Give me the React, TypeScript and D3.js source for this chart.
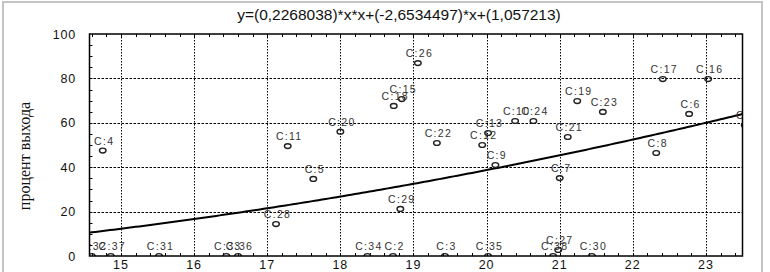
import React, { useEffect, useRef } from "react";
import * as d3 from "d3";

// fitted curve y = a*x*x + b*x + c (from the chart title)
const coeffs = [0.2268038, -2.6534497, 1.057213];
const title = "y=(0,2268038)*x*x+(-2,6534497)*x+(1,057213)";
const yLabel = "процент выхода";

const labels = [
  "C:4", "C:32", "C:37", "C:31", "C:33", "C:36", "C:11", "C:5", "C:28", "C:20",
  "C:34", "C:2", "C:18", "C:15", "C:29", "C:26", "C:22", "C:3", "C:12", "C:13",
  "C:35", "C:9", "C:10", "C:24", "C:7", "C:27", "C:38", "C:30", "C:21", "C:19",
  "C:23", "C:8", "C:17", "C:6", "C:16", "C:1",
];
const xs = [
  14.75, 14.6, 14.86, 15.52, 16.44, 16.6, 17.28, 17.63, 17.12, 18.0,
  18.37, 18.72, 18.73, 18.84, 18.82, 19.06, 19.32, 19.43, 19.94, 20.02,
  20.02, 20.12, 20.39, 20.64, 21.0, 20.98, 20.91, 21.44, 21.11, 21.24,
  21.59, 22.32, 22.41, 22.77, 23.03, 23.53,
];
const ys = [
  47.5, 0, 0, 0, 0, 0, 49.5, 34.7, 14.4, 56,
  0, 0, 67.6, 70.7, 21.2, 86.9, 50.9, 0, 50, 55.4,
  0, 41, 60.8, 60.8, 35.1, 2.7, 0, 0, 53.6, 69.8,
  64.9, 46.4, 79.7, 64, 79.7, 59,
];

const xTicks = [15, 16, 17, 18, 19, 20, 21, 22, 23];
const yTicks = [0, 20, 40, 60, 80, 100];

const W = 770, H = 272;
const plot = { left: 89.5, right: 742.5, top: 34, bottom: 256 };

const App = () => {
  const ref = useRef<SVGSVGElement>(null);

  useEffect(() => {
    const svg = d3.select(ref.current);
    svg.selectAll("*").remove();

    const x = d3.scaleLinear().domain([14.569, 23.5]).range([plot.left, plot.right]);
    const y = d3.scaleLinear().domain([0, 100]).range([plot.bottom, plot.top]);

    // outer frame
    svg.append("rect")
      .attr("x", 3).attr("y", 2).attr("width", 759).attr("height", H + 4)
      .attr("fill", "white").attr("stroke", "#c4c4c4").attr("stroke-width", 2);

    svg.append("text")
      .attr("x", 399).attr("y", 20)
      .attr("text-anchor", "middle")
      .attr("font-family", "Liberation Sans, Arial, sans-serif")
      .attr("font-size", 15.5)
      .attr("fill", "#111")
      .text(title);

    svg.append("text")
      .attr("transform", `translate(30,156) rotate(-90)`)
      .attr("text-anchor", "middle")
      .attr("font-family", "Liberation Serif, Times New Roman, serif")
      .attr("font-size", 16)
      .attr("fill", "#111")
      .text(yLabel);

    svg.append("defs").append("clipPath").attr("id", "plotclip")
      .append("rect")
      .attr("x", plot.left).attr("y", plot.top)
      .attr("width", plot.right - plot.left).attr("height", plot.bottom - plot.top);

    // grid
    const grid = svg.append("g").attr("stroke", "#000").attr("stroke-width", 1);
    grid.selectAll("line.v").data(xTicks).enter().append("line")
      .attr("x1", d => Math.round(x(d)) + 0.5).attr("x2", d => Math.round(x(d)) + 0.5)
      .attr("y1", plot.top).attr("y2", plot.bottom)
      .attr("stroke-dasharray", "1.5,1.5");
    grid.selectAll("line.h").data(yTicks.filter(d => d > 0 && d < 100)).enter().append("line")
      .attr("y1", d => Math.round(y(d)) + 0.5).attr("y2", d => Math.round(y(d)) + 0.5)
      .attr("x1", plot.left).attr("x2", plot.right)
      .attr("stroke-dasharray", "2.5,1.5");

    // minor / major ticks
    const ticks = svg.append("g").attr("stroke", "#000").attr("stroke-width", 1);
    const minorX = d3.range(14.6, 23.5, 0.2);
    ticks.selectAll("line.tt").data(minorX).enter().append("line")
      .attr("x1", d => Math.round(x(d)) + 0.5).attr("x2", d => Math.round(x(d)) + 0.5)
      .attr("y1", plot.top).attr("y2", plot.top + 3);
    ticks.selectAll("line.tb").data(minorX).enter().append("line")
      .attr("x1", d => Math.round(x(d)) + 0.5).attr("x2", d => Math.round(x(d)) + 0.5)
      .attr("y1", plot.bottom).attr("y2", plot.bottom - 3);
    const minorY = d3.range(5, 100, 5);
    ticks.selectAll("line.tl").data(minorY).enter().append("line")
      .attr("y1", d => Math.round(y(d)) + 0.5).attr("y2", d => Math.round(y(d)) + 0.5)
      .attr("x1", plot.left).attr("x2", plot.left + 3);

    // points, labels, fitted curve
    const inner = svg.append("g").attr("clip-path", "url(#plotclip)");

    const line = d3.line<number>()
      .x(d => x(d))
      .y(d => y(coeffs[0] * d * d + coeffs[1] * d + coeffs[2]));
    inner.append("path")
      .datum(d3.range(14.5, 23.6, 0.05))
      .attr("d", line)
      .attr("fill", "none")
      .attr("stroke", "#000")
      .attr("stroke-width", 2);

    const pts = labels.map((l, i) => ({ label: l, x: xs[i], y: ys[i] }));

    inner.selectAll("ellipse").data(pts).enter().append("ellipse")
      .attr("cx", d => x(d.x)).attr("cy", d => y(d.y))
      .attr("rx", 3.3).attr("ry", 2.4)
      .attr("fill", "none").attr("stroke", "#222").attr("stroke-width", 1.4);

    inner.selectAll("text").data(pts).enter().append("text")
      .attr("x", d => x(d.x) + 1.5).attr("y", d => y(d.y) - 6)
      .attr("text-anchor", "middle")
      .attr("font-family", "Liberation Sans, Arial, sans-serif")
      .attr("font-size", 10.5)
      .attr("letter-spacing", 1.3)
      .attr("fill", "#333")
      .text(d => d.label);

    // plot frame
    svg.append("rect")
      .attr("x", plot.left).attr("y", plot.top)
      .attr("width", plot.right - plot.left).attr("height", plot.bottom - plot.top)
      .attr("fill", "none").attr("stroke", "#000").attr("stroke-width", 1.5);

    // tick labels
    svg.append("g").selectAll("text").data(xTicks).enter().append("text")
      .attr("x", d => x(d)).attr("y", 269)
      .attr("text-anchor", "middle")
      .attr("font-family", "Liberation Sans, Arial, sans-serif")
      .attr("font-size", 12.5)
      .attr("letter-spacing", 1)
      .attr("fill", "#111")
      .text(d => d);

    svg.append("g").selectAll("text").data(yTicks).enter().append("text")
      .attr("x", 76).attr("y", d => y(d) + 4.5)
      .attr("text-anchor", "end")
      .attr("font-family", "Liberation Sans, Arial, sans-serif")
      .attr("font-size", 12.5)
      .attr("letter-spacing", 0.8)
      .attr("fill", "#111")
      .text(d => d);
  }, []);

  return (
    <svg ref={ref} width={W} height={H}
      style={{ position: "absolute", left: 0, top: 0, background: "white" }} />
  );
};

export default App;
